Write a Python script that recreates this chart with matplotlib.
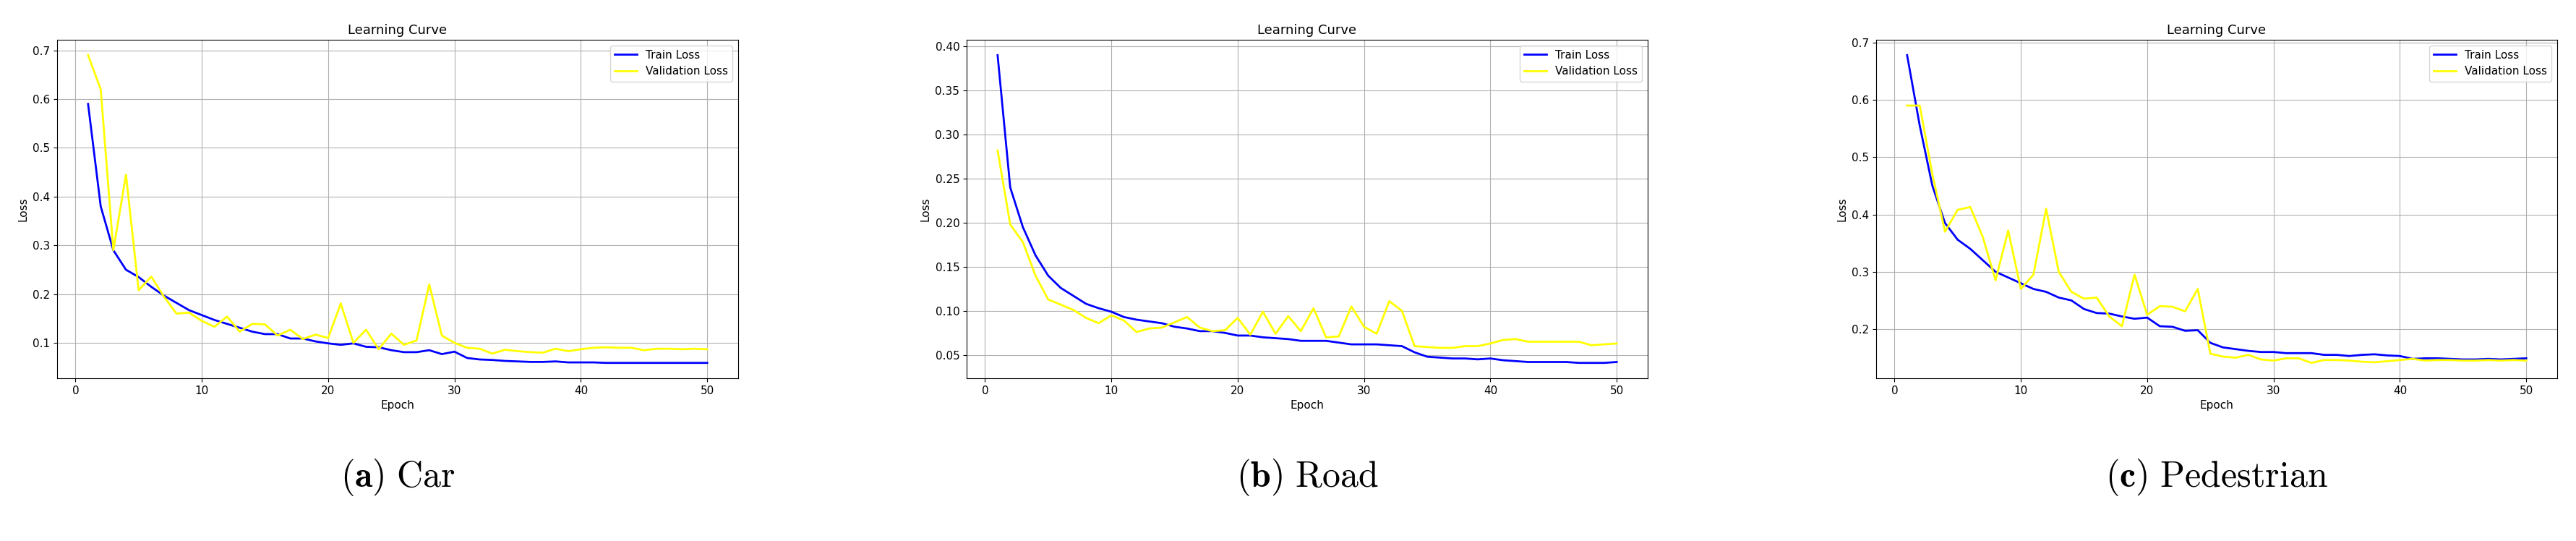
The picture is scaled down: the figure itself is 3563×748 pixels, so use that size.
import matplotlib
matplotlib.use("Agg")
from matplotlib import pyplot as plt

epochs = list(range(1, 51))

car_train = [0.59, 0.38, 0.29, 0.25, 0.235, 0.215, 0.197, 0.182, 0.167, 0.157,
             0.147, 0.139, 0.131, 0.123, 0.118, 0.118, 0.109, 0.109, 0.103, 0.099,
             0.096, 0.099, 0.092, 0.091, 0.085, 0.081, 0.081, 0.085, 0.077, 0.082,
             0.069, 0.066, 0.065, 0.063, 0.062, 0.061, 0.061, 0.062, 0.060, 0.060,
             0.060, 0.059, 0.059, 0.059, 0.059, 0.059, 0.059, 0.059, 0.059, 0.059]
car_val = [0.69, 0.62, 0.29, 0.445, 0.208, 0.236, 0.195, 0.16, 0.162, 0.145,
           0.133, 0.154, 0.123, 0.139, 0.138, 0.115, 0.127, 0.108, 0.117, 0.11,
           0.181, 0.1, 0.127, 0.087, 0.119, 0.096, 0.105, 0.22, 0.115, 0.1,
           0.09, 0.088, 0.078, 0.086, 0.083, 0.081, 0.080, 0.088, 0.083, 0.087,
           0.090, 0.091, 0.090, 0.090, 0.085, 0.088, 0.088, 0.087, 0.088, 0.087]

road_train = [0.39, 0.24, 0.195, 0.163, 0.14, 0.126, 0.117, 0.108, 0.103, 0.099,
              0.093, 0.09, 0.088, 0.086, 0.082, 0.08, 0.077, 0.077, 0.075, 0.072,
              0.072, 0.070, 0.069, 0.068, 0.066, 0.066, 0.066, 0.064, 0.062, 0.062,
              0.062, 0.061, 0.060, 0.053, 0.048, 0.047, 0.046, 0.046, 0.045, 0.046,
              0.044, 0.043, 0.042, 0.042, 0.042, 0.042, 0.041, 0.041, 0.041, 0.042]
road_val = [0.282, 0.198, 0.178, 0.14, 0.113, 0.107, 0.101, 0.092, 0.086, 0.095,
            0.089, 0.076, 0.08, 0.081, 0.087, 0.093, 0.081, 0.077, 0.078, 0.092,
            0.073, 0.099, 0.074, 0.094, 0.077, 0.103, 0.07, 0.071, 0.105, 0.082,
            0.074, 0.111, 0.1, 0.06, 0.059, 0.058, 0.058, 0.06, 0.06, 0.063,
            0.067, 0.068, 0.065, 0.065, 0.065, 0.065, 0.065, 0.061, 0.062, 0.063]

ped_train = [0.678, 0.555, 0.45, 0.385, 0.356, 0.34, 0.32, 0.3, 0.29, 0.28,
             0.27, 0.265, 0.255, 0.25, 0.235, 0.228, 0.227, 0.222, 0.218, 0.22,
             0.205, 0.204, 0.197, 0.198, 0.176, 0.168, 0.165, 0.162, 0.16, 0.16,
             0.158, 0.158, 0.158, 0.155, 0.155, 0.153, 0.155, 0.156, 0.154, 0.153,
             0.148, 0.149, 0.149, 0.148, 0.147, 0.147, 0.148, 0.147, 0.148, 0.149]
ped_val = [0.59, 0.59, 0.47, 0.37, 0.408, 0.413, 0.36, 0.285, 0.372, 0.27,
           0.295, 0.41, 0.3, 0.265, 0.253, 0.255, 0.222, 0.205, 0.295, 0.225,
           0.24, 0.239, 0.231, 0.27, 0.157, 0.152, 0.15, 0.155, 0.147, 0.145,
           0.149, 0.149, 0.141, 0.146, 0.146, 0.145, 0.143, 0.142, 0.144, 0.146,
           0.148, 0.145, 0.146, 0.146, 0.145, 0.145, 0.146, 0.145, 0.146, 0.145]

panels = [("a", "Car", car_train, car_val),
          ("b", "Road", road_train, road_val),
          ("c", "Pedestrian", ped_train, ped_val)]

W, H = 3563, 748
fig = plt.figure(figsize=(W / 100, H / 100), dpi=100)
lefts = [79, 1337, 2595]
width = 942
for left, (letter, name, train, val) in zip(lefts, panels):
    ax = fig.add_axes([left / W, 1 - 523 / H, width / W, 468 / H])
    ax.plot(epochs, train, color="blue", linewidth=2, label="Train Loss")
    ax.plot(epochs, val, color="yellow", linewidth=2, label="Validation Loss")
    ax.set_title("Learning Curve", fontsize=13)
    ax.set_xlabel("Epoch", fontsize=11)
    ax.set_ylabel("Loss", fontsize=11)
    ax.tick_params(labelsize=11)
    ax.grid(True)
    ax.legend(loc="upper right", fontsize=11)
    cx = (left + width / 2) / W
    fig.text(cx, 1 - 660 / H, r"$(\mathbf{%s})\ \mathrm{%s}$" % (letter, name),
             ha="center", va="center", fontsize=36, math_fontfamily="cm")

fig.savefig("out.png", dpi=100)
